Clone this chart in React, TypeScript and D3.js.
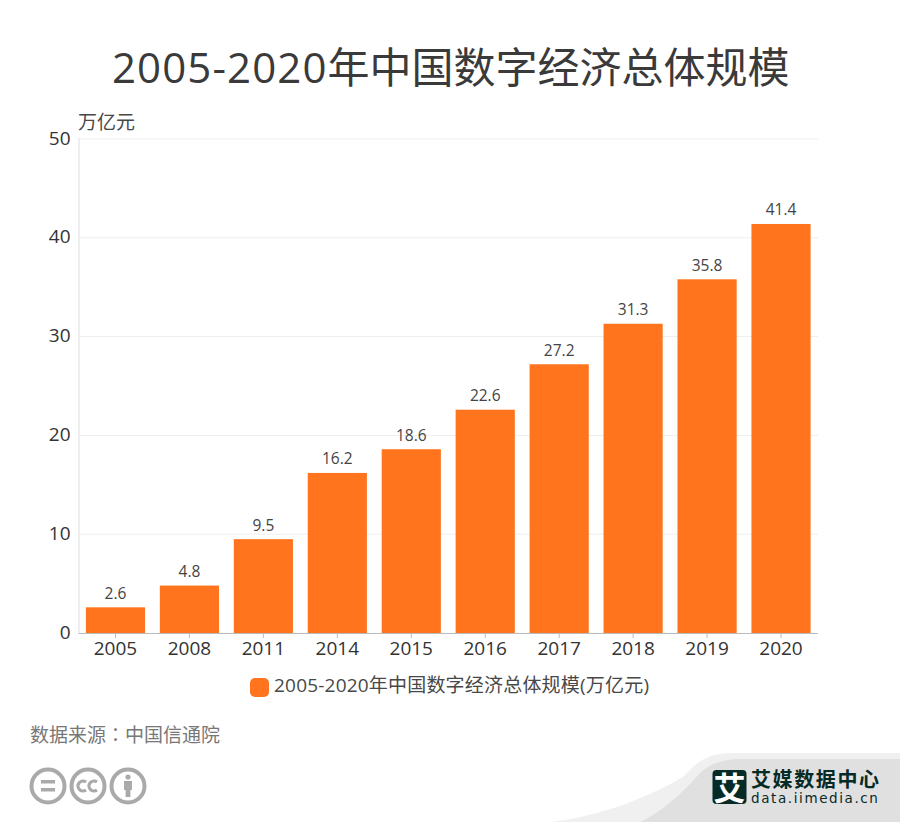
import React from "react";
import * as d3 from "d3";

const categories = ["2005","2008","2011","2014","2015","2016","2017","2018","2019","2020"];
const values = [2.6,4.8,9.5,16.2,18.6,22.6,27.2,31.3,35.8,41.4];
const yTicks = [0,10,20,30,40,50];
const titleYears = "2005-2020";
const titleRest = "年中国数字经济总体规模";
const legendText = "2005-2020年中国数字经济总体规模(万亿元)";
const unitText = "万亿元";
const sourceHead = "数据来源";
const sourceColon = "：";
const sourceTail = "中国信通院";

const FONT = '"Open Sans", "Noto Sans CJK SC", sans-serif';
const ORANGE = "#ff741c";

export default function App() {
  const x = d3.scaleBand<string>().domain(categories).range([78.5, 818]).paddingInner(0.2).paddingOuter(0.1);
  const y = d3.scaleLinear().domain([0, 50]).range([633, 139]);
  const bw = x.bandwidth();
  return (
    <svg width={900} height={822} style={{ position: "absolute", left: 0, top: 0, background: "#fff" }} fontFamily={FONT}>
      <text x={112} y={83} fontSize={42} fill="#3a3a3a">
        <tspan letterSpacing={1.1}>{titleYears}</tspan>
        <tspan>{titleRest}</tspan>
      </text>
      <text x={78} y={129} fontSize={19} fill="#484848">{unitText}</text>

      {yTicks.filter(t => t > 0).map(t => (
        <line key={t} x1={78.5} x2={818} y1={y(t)} y2={y(t)} stroke="#eee" strokeWidth={1} />
      ))}
      <line x1={79} x2={79} y1={138} y2={633} stroke="#eee" strokeWidth={2} />
      {yTicks.map(t => (
        <text key={t} x={70.5} y={y(t) + 5.5} textAnchor="end" fontSize={19} fill="#333">{t}</text>
      ))}

      {categories.map((c, i) => {
        const bx = x(c)!;
        return (
          <g key={c}>
            <rect x={bx} y={y(values[i])} width={bw} height={y(0) - y(values[i])} fill={ORANGE} />
            <text x={bx + bw / 2} y={y(values[i]) - 8.5} textAnchor="middle" fontSize={15.5} fill="#444">{values[i]}</text>
            <line x1={bx + bw / 2} x2={bx + bw / 2} y1={633} y2={638} stroke="#bbb" />
            <text x={bx + bw / 2} y={654.5} textAnchor="middle" fontSize={19} fill="#333">{c}</text>
          </g>
        );
      })}
      <line x1={78.5} x2={818} y1={633.5} y2={633.5} stroke="#bbb" strokeWidth={1} />

      <rect x={250} y={678} width={19} height={19} rx={5} fill={ORANGE} />
      <text x={274} y={692} fontSize={19} letterSpacing={0.2} fill="#484848">{legendText}</text>

      <text x={30} y={742} fontSize={19} fill="#777">
        <tspan>{sourceHead}</tspan>
        <tspan fontFamily='"Noto Sans CJK TC", sans-serif'>{sourceColon}</tspan>
        <tspan>{sourceTail}</tspan>
      </text>

      <g fill="none" stroke="#aaa" strokeWidth={4}>
        <circle cx={48} cy={786} r={16.5} />
        <circle cx={88} cy={786} r={16.5} />
        <circle cx={128} cy={786} r={16.5} />
      </g>
      <rect x={41} y={780} width={14} height={3.5} fill="#aaa" />
      <rect x={41} y={788} width={14} height={3.5} fill="#aaa" />
      <g fill="none" stroke="#aaa" strokeWidth={3.2}>
        <path d="M86 782 a5 5 0 1 0 0 8" />
        <path d="M97 782 a5 5 0 1 0 0 8" />
      </g>
      <circle cx={128} cy={777} r={2.6} fill="#aaa" />
      <path d="M124 781 h8 v9 h-1.6 v7 h-4.8 v-7 h-1.6 z" fill="#aaa" />

      <path d="M550 822 C 590 818, 640 802, 683 777 C 695 765, 703 753, 735 753 L 900 753 L 900 822 Z" fill="#f0f0f0" />
      <path d="M640 822 C 665 810, 685 790, 700 773 C 712 762, 725 759, 745 759 L 900 759 L 900 822 Z" fill="#e0e0e0" />
      <rect x={712.5} y={770} width={34} height={34} rx={4} fill="#062a26" />
      <text x={729.5} y={800} textAnchor="middle" fontSize={32} fontWeight={700} fill="#fff">艾</text>
      <text x={751} y={786.5} fontSize={20} fontWeight={700} letterSpacing={1.6} fill="#062a26">艾媒数据中心</text>
      <text x={751} y={803} fontSize={13.5} letterSpacing={1.6} fill="#062a26" fontFamily='"DejaVu Sans", sans-serif'>data.iimedia.cn</text>
    </svg>
  );
}
